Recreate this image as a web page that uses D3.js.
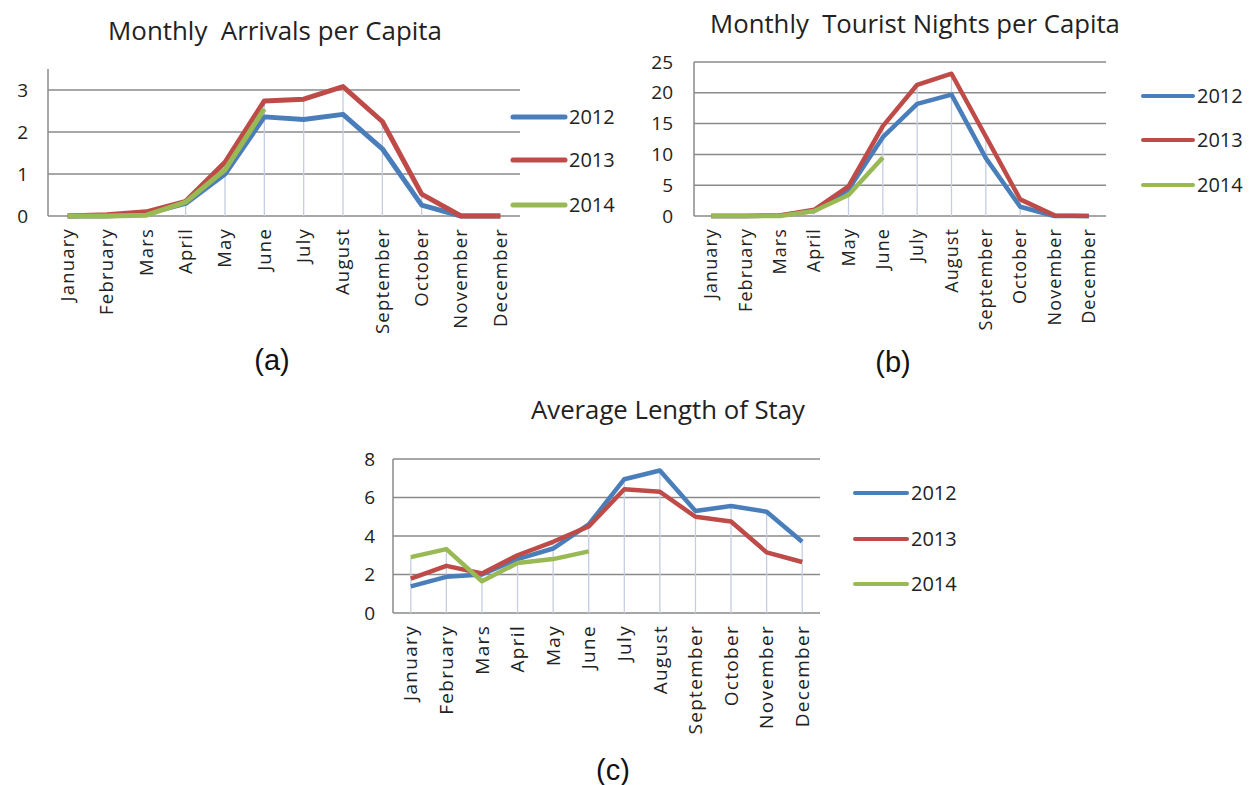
<!DOCTYPE html>
<html>
<head>
<meta charset="utf-8">
<script src="https://cdn.jsdelivr.net/npm/d3@7"></script>
<style>
  body { margin: 0; background: #fff; }
  svg { display: block; }
</style>
</head>
<body>
<svg id="fig" width="1258" height="785"></svg>
<script>
// categories
const months = ["January", "February", "Mars", "April", "May", "June", "July",
  "August", "September", "October", "November", "December"];
const years = ["2012", "2013", "2014"];

// (a) monthly arrivals per capita
const arrivals2012 = [0, 0, 0.05, 0.3, 1.0, 2.36, 2.3, 2.42, 1.6, 0.26, 0, 0];
const arrivals2013 = [0, 0.03, 0.1, 0.35, 1.28, 2.74, 2.78, 3.08, 2.25, 0.52, 0, 0];
const arrivals2014 = [0, 0, 0.02, 0.33, 1.1, 2.55];

// (b) monthly tourist nights per capita
const nights2012 = [0, 0, 0.1, 0.8, 4.3, 12.8, 18.2, 19.7, 9.4, 1.5, 0, 0];
const nights2013 = [0, 0, 0.1, 1.0, 4.8, 14.6, 21.3, 23.1, 12.9, 2.7, 0.1, 0];
const nights2014 = [0, 0, 0, 0.8, 3.4, 9.5];

// (c) average length of stay
const stay2012 = [1.38, 1.88, 2.0, 2.8, 3.35, 4.6, 6.95, 7.4, 5.3, 5.56, 5.26, 3.7];
const stay2013 = [1.78, 2.45, 2.05, 3.0, 3.7, 4.5, 6.43, 6.3, 5.0, 4.75, 3.15, 2.65];
const stay2014 = [2.9, 3.32, 1.65, 2.6, 2.8, 3.2];

const yTicksA = [0, 1, 2, 3];
const yTicksB = [0, 5, 10, 15, 20, 25];
const yTicksC = [0, 2, 4, 6, 8];

const colors = ["#4a7ebb", "#be4b48", "#98b954"];
const font = "'Open Sans', 'DejaVu Sans', sans-serif";

const svg = d3.select("#fig");

// one Excel-like line chart panel
function drawPanel(p) {
  const g = svg.append("g");

  const x = d3.scaleBand().domain(months).range([p.left, p.right]);
  const y = d3.scaleLinear().domain([0, p.yMax]).range([p.bottom, p.top]);
  const cx = d => x(d) + x.bandwidth() / 2;

  // horizontal gridlines
  g.selectAll(".grid").data(p.ticks).join("line")
    .attr("x1", p.left).attr("x2", p.right)
    .attr("y1", d => y(d)).attr("y2", d => y(d))
    .attr("stroke", "#8a8a8a").attr("stroke-width", 1.5);

  // y axis line
  g.append("line")
    .attr("x1", p.left).attr("x2", p.left)
    .attr("y1", p.top).attr("y2", p.bottom)
    .attr("stroke", "#8a8a8a").attr("stroke-width", 1.5);

  // drop lines
  const tops = months.map((m, i) => d3.max(p.series, s => s[i] === undefined ? 0 : s[i]));
  g.selectAll(".drop").data(months).join("line")
    .attr("x1", cx).attr("x2", cx)
    .attr("y1", (d, i) => y(tops[i])).attr("y2", p.bottom)
    .attr("stroke", "#c5cde2").attr("stroke-width", 1.3);

  // y tick labels via d3 axis
  const ya = g.append("g")
    .attr("transform", `translate(${p.left - p.tickGap},0)`)
    .call(d3.axisLeft(y).tickValues(p.ticks).tickFormat(d3.format("d"))
      .tickSize(0).tickPadding(0));
  ya.select(".domain").remove();
  ya.selectAll("text")
    .attr("font-family", font).attr("font-size", p.tickSize).attr("fill", "#222");

  // month labels, rotated
  const xa = g.append("g")
    .attr("transform", `translate(0,${p.bottom + p.labelGap})`)
    .call(d3.axisBottom(x).tickSize(0).tickPadding(0));
  xa.select(".domain").remove();
  xa.selectAll("text")
    .attr("font-family", font).attr("font-size", p.monthSize).attr("fill", "#222")
    .attr("letter-spacing", p.monthSpacing)
    .attr("transform", "rotate(-90)")
    .attr("text-anchor", "end")
    .attr("x", 0).attr("y", 0).attr("dy", "0.35em");

  // series lines
  const line = d3.line().x((d, i) => cx(months[i])).y(d => y(d));
  p.series.forEach((s, k) => {
    g.append("path").datum(s)
      .attr("d", line)
      .attr("fill", "none")
      .attr("stroke", colors[k])
      .attr("stroke-width", p.lineWidth)
      .attr("stroke-linejoin", "round");
  });

  // legend
  years.forEach((yr, k) => {
    const ly = p.legendY[k];
    g.append("line")
      .attr("x1", p.legendX).attr("x2", p.legendX + p.legendLen)
      .attr("y1", ly).attr("y2", ly)
      .attr("stroke", colors[k]).attr("stroke-width", p.legendWidth)
      .attr("stroke-linecap", "round");
    g.append("text")
      .attr("x", p.legendX + p.legendLen + 4).attr("y", ly).attr("dy", "0.36em")
      .attr("font-family", font).attr("font-size", 20).attr("fill", "#222")
      .text(yr);
  });

  // title, fitted to its width in the reference
  const t = g.append("text")
    .attr("x", p.titleX).attr("y", p.titleY)
    .attr("text-anchor", "middle")
    .attr("font-family", font).attr("font-size", 20).attr("fill", "#222")
    .attr("xml:space", "preserve")
    .text(p.title);
  const w = t.node().getComputedTextLength();
  t.attr("font-size", 20 * p.titleW / w);

  // panel letter
  g.append("text")
    .attr("x", p.subX).attr("y", p.subY)
    .attr("text-anchor", "middle")
    .attr("font-family", "'Liberation Sans', Arial, sans-serif")
    .attr("font-size", 29).attr("fill", "#111")
    .text(p.sub);
}

drawPanel({
  title: "Monthly  Arrivals per Capita", titleX: 275, titleY: 40, titleW: 334,
  series: [arrivals2012, arrivals2013, arrivals2014],
  left: 48, right: 520, top: 69, bottom: 216, yMax: 3.5, ticks: yTicksA,
  tickGap: 20, tickSize: 19, labelGap: 12, monthSize: 18.5, monthSpacing: 1.2, lineWidth: 5,
  legendX: 513, legendLen: 52, legendY: [117, 160, 205], legendWidth: 5,
  sub: "(a)", subX: 272, subY: 370
});

drawPanel({
  title: "Monthly  Tourist Nights per Capita", titleX: 915, titleY: 33, titleW: 410,
  series: [nights2012, nights2013, nights2014],
  left: 694, right: 1106, top: 62, bottom: 216, yMax: 25, ticks: yTicksB,
  tickGap: 21, tickSize: 19, labelGap: 12, monthSize: 18, monthSpacing: 1.1, lineWidth: 4.5,
  legendX: 1143, legendLen: 50, legendY: [96, 140, 185], legendWidth: 4,
  sub: "(b)", subX: 893, subY: 372
});

drawPanel({
  title: "Average Length of Stay", titleX: 668, titleY: 419, titleW: 274,
  series: [stay2012, stay2013, stay2014],
  left: 393, right: 820, top: 459, bottom: 613, yMax: 8, ticks: yTicksC,
  tickGap: 18, tickSize: 19, labelGap: 12, monthSize: 19, monthSpacing: 1.3, lineWidth: 4.5,
  legendX: 855, legendLen: 52, legendY: [493, 539, 584], legendWidth: 4,
  sub: "(c)", subX: 613, subY: 780
});
</script>
</body>
</html>
